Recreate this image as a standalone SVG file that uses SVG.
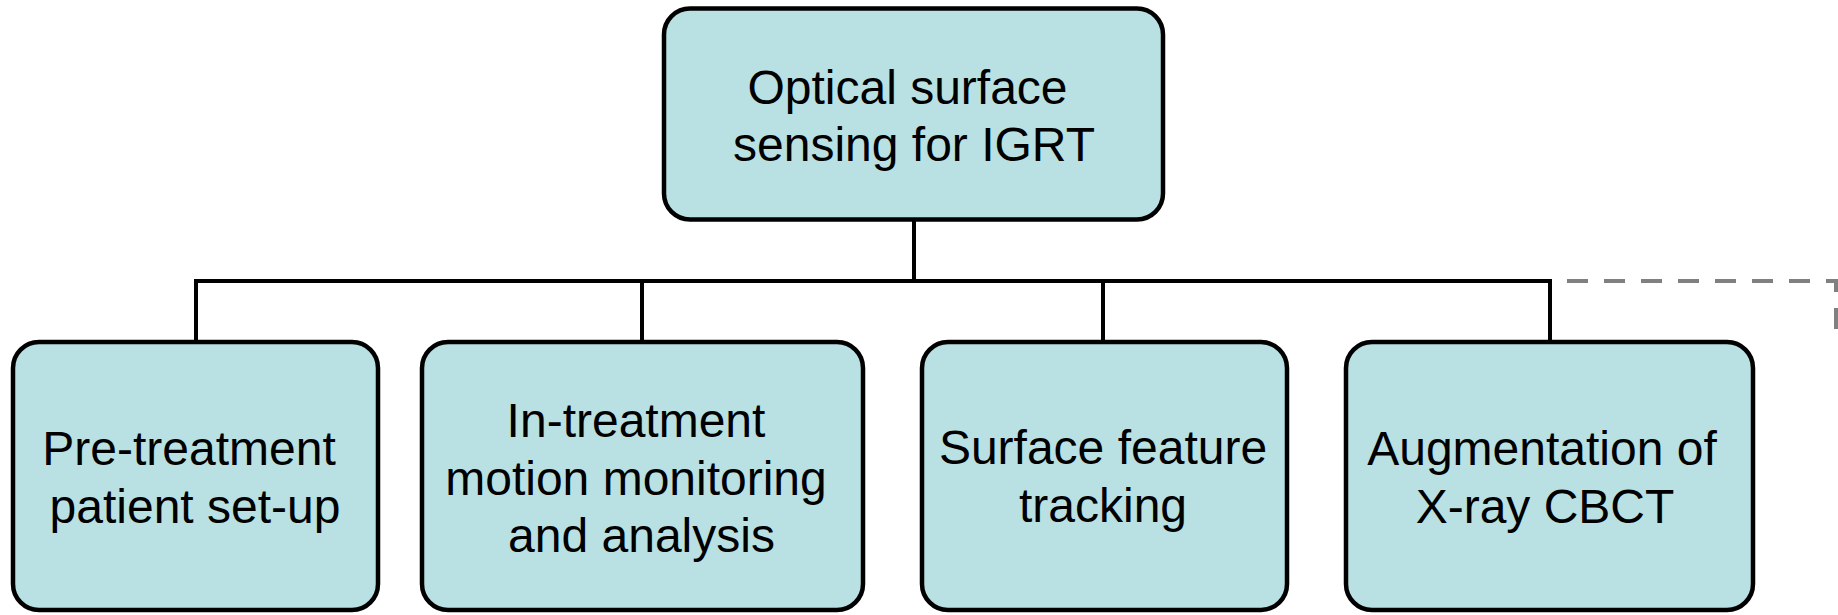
<svg xmlns="http://www.w3.org/2000/svg" width="1838" height="615" viewBox="0 0 1838 615">
  <style>
    .box { fill: #B9E0E3; stroke: #000; stroke-width: 4.5; }
    .label { font-family: "Liberation Sans", Arial, sans-serif; font-size: 48px; fill: #000; text-anchor: middle; }
    .wire { fill: none; stroke: #000; stroke-width: 4; }
    .dash { fill: none; stroke: #808080; stroke-width: 4; stroke-dasharray: 21 16; }
  </style>
  <rect width="1838" height="615" fill="#fff"/>

  <!-- tree connectors -->
  <g id="connectors">
    <path class="wire" d="M914,220 V281"/>
    <path class="wire" d="M196,342 V281 H1550 V342"/>
    <path class="wire" d="M642,281 V342"/>
    <path class="wire" d="M1103,281 V342"/>
    <path class="dash" d="M1567,281 H1836 V330"/>
  </g>

  <g id="root">
    <rect class="box" x="664" y="8.5" width="499" height="211" rx="26" ry="26"/>
    <text class="label"><tspan x="907.5" y="104">Optical surface</tspan><tspan x="914" y="161">sensing for IGRT</tspan></text>
  </g>

  <g id="pre-treatment">
    <rect class="box" x="13" y="342" width="365" height="268" rx="26" ry="26"/>
    <text class="label"><tspan x="189" y="465">Pre-treatment</tspan><tspan x="195" y="523">patient set-up</tspan></text>
  </g>

  <g id="in-treatment">
    <rect class="box" x="422" y="342" width="441" height="268" rx="26" ry="26"/>
    <text class="label"><tspan x="636" y="437">In-treatment</tspan><tspan x="636" y="495">motion monitoring</tspan><tspan x="641.5" y="552">and analysis</tspan></text>
  </g>

  <g id="feature-tracking">
    <rect class="box" x="922" y="342" width="365" height="268" rx="26" ry="26"/>
    <text class="label"><tspan x="1103" y="464">Surface feature</tspan><tspan x="1103" y="522">tracking</tspan></text>
  </g>

  <g id="cbct">
    <rect class="box" x="1346" y="342" width="407" height="268" rx="26" ry="26"/>
    <text class="label"><tspan x="1542" y="465">Augmentation of</tspan><tspan x="1545" y="523">X-ray CBCT</tspan></text>
  </g>
</svg>
